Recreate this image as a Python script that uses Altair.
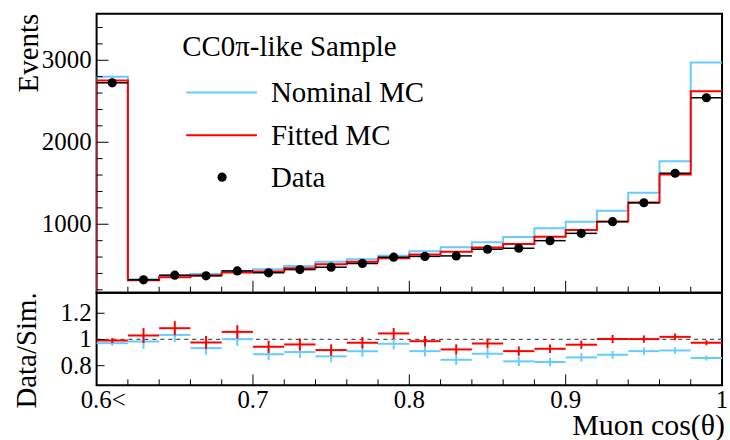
import altair as alt
import pandas as pd

# ---------------- data ----------------
bin_edges = [0.60, 0.62, 0.64, 0.66, 0.68, 0.70, 0.72, 0.74, 0.76, 0.78, 0.80,
             0.82, 0.84, 0.86, 0.88, 0.90, 0.92, 0.94, 0.96, 0.98, 1.00]
nominal_mc = [2800, 328, 372, 393, 431, 452, 492, 544, 573, 617, 670,
              719, 780, 844, 950, 1031, 1164, 1383, 1768, 2972]
fitted_mc = [2753, 318, 355, 378, 411, 423, 464, 513, 544, 586, 632,
             666, 715, 759, 848, 930, 1035, 1266, 1606, 2623]
data_counts = [2725, 322, 379, 371, 431, 407, 447, 476, 522, 598, 608,
               614, 695, 707, 800, 889, 1031, 1262, 1622, 2543]
data_err = [52, 18, 19, 19, 21, 20, 21, 22, 23, 24, 25,
            25, 26, 27, 28, 30, 32, 36, 40, 50]
ratio_fitted = [0.992, 1.030, 1.086, 0.977, 1.058, 0.944, 0.962, 0.919, 0.975, 1.046,
                0.987, 0.924, 0.970, 0.911, 0.929, 0.960, 1.003, 1.003, 1.020, 0.975]
ratio_nominal = [0.972, 0.985, 1.035, 0.934, 1.002, 0.888, 0.904, 0.871, 0.911, 0.967,
                 0.911, 0.845, 0.891, 0.833, 0.828, 0.863, 0.883, 0.911, 0.916, 0.858]
ratio_err = [0.019, 0.057, 0.054, 0.050, 0.051, 0.047, 0.046, 0.044, 0.043, 0.042,
             0.040, 0.039, 0.037, 0.036, 0.033, 0.032, 0.031, 0.028, 0.025, 0.019]

y_top_ticks = [1000, 2000, 3000]
y_top_minor = [200, 400, 600, 800, 1200, 1400, 1600, 1800, 2200, 2400, 2600, 2800, 3200, 3400]
y_bot_ticks = [0.8, 1.0, 1.2]
y_bot_labels = ["0.8", "1", "1.2"]
x_major = [0.7, 0.8, 0.9]
x_minor = [0.62, 0.64, 0.66, 0.68, 0.72, 0.74, 0.76, 0.78, 0.82, 0.84, 0.86, 0.88,
           0.92, 0.94, 0.96, 0.98]
x_label_vals = [0.7, 0.8, 0.9, 1.0]
x_label_text = ["0.7", "0.8", "0.9", "1"]

# ---------------- style ----------------
FONT = "Times New Roman, Liberation Serif, serif"
BLUE = "#66CCFF"
RED = "#FF0000"
W, H1, H2 = 628, 280, 93
Y_LO, Y_HI = 165, 3566
R_LO, R_HI = 0.65, 1.357
TICK_FS = 25
LEG_FS = 29

xs = alt.Scale(domain=[0.6, 1.0], nice=False, zero=False)
yt = alt.Scale(domain=[Y_LO, Y_HI], nice=False, zero=False)
yb = alt.Scale(domain=[R_LO, R_HI], nice=False, zero=False)

lo = bin_edges[:-1]
hi = bin_edges[1:]
ctr = [(a + b) / 2 for a, b in zip(lo, hi)]


def step_df(vals):
    xs_ = [bin_edges[0]] + lo + [bin_edges[-1]]
    ys_ = [Y_LO] + vals + [vals[-1]]
    return pd.DataFrame({"x": xs_, "y": ys_, "idx": list(range(len(xs_)))})


def X(f):
    return alt.X(f, scale=xs, axis=None)


def YT(f):
    return alt.Y(f, scale=yt, axis=None)


def YB(f):
    return alt.Y(f, scale=yb, axis=None)


one = pd.DataFrame({"a": [0]})

# ---------------- top panel ----------------
hist_layers = []
for vals, col in [(nominal_mc, BLUE), (fitted_mc, RED)]:
    hist_layers.append(
        alt.Chart(step_df(vals)).mark_line(interpolate="step-after", color=col,
                                           strokeWidth=2, clip=True)
        .encode(x=X("x:Q"), y=YT("y:Q"), order="idx:Q")
    )

ddf = pd.DataFrame({"lo": lo, "hi": hi, "c": ctr, "v": data_counts,
                    "vlo": [v - e for v, e in zip(data_counts, data_err)],
                    "vhi": [v + e for v, e in zip(data_counts, data_err)]})
d_h = alt.Chart(ddf).mark_rule(color="black", strokeWidth=1.5).encode(
    x=X("lo:Q"), x2="hi:Q", y=YT("v:Q"))
d_v = alt.Chart(ddf).mark_rule(color="black", strokeWidth=1.5).encode(
    x=X("c:Q"), y=YT("vlo:Q"), y2="vhi:Q")
d_pt = alt.Chart(ddf).mark_circle(color="black", size=85, opacity=1).encode(
    x=X("c:Q"), y=YT("v:Q"))

# ticks (inside the frame)
tk_top = [
    alt.Chart(pd.DataFrame({"v": y_top_ticks})).mark_rule(color="black", strokeWidth=1)
    .encode(y=YT("v:Q"), x=alt.value(0), x2=alt.value(12)),
    alt.Chart(pd.DataFrame({"v": y_top_minor})).mark_rule(color="black", strokeWidth=1)
    .encode(y=YT("v:Q"), x=alt.value(0), x2=alt.value(6)),
    alt.Chart(pd.DataFrame({"v": x_major})).mark_rule(color="black", strokeWidth=1)
    .encode(x=X("v:Q"), y=alt.value(H1), y2=alt.value(H1 - 12)),
    alt.Chart(pd.DataFrame({"v": x_minor})).mark_rule(color="black", strokeWidth=1)
    .encode(x=X("v:Q"), y=alt.value(H1), y2=alt.value(H1 - 6)),
]

ylab_top = alt.Chart(pd.DataFrame({"v": y_top_ticks, "t": [str(v) for v in y_top_ticks]})) \
    .mark_text(font=FONT, fontSize=TICK_FS, align="right", baseline="middle", color="black") \
    .encode(y=YT("v:Q"), x=alt.value(-5), text="t:N")

events_title = alt.Chart(one).mark_text(
    text="Events", font=FONT, fontSize=29, angle=270, align="right",
    baseline="alphabetic", color="black").encode(x=alt.value(-59), y=alt.value(0))

# legend
leg = []
leg.append(alt.Chart(one).mark_text(text="CC0π-like Sample", font=FONT, fontSize=LEG_FS,
                                    align="left", baseline="alphabetic", color="black")
           .encode(x=alt.value(86), y=alt.value(42)))
for label, col, ly in [("Nominal MC", BLUE, 79), ("Fitted MC", RED, 122)]:
    leg.append(alt.Chart(one).mark_rule(color=col, strokeWidth=2)
               .encode(x=alt.value(90), x2=alt.value(161), y=alt.value(ly)))
    leg.append(alt.Chart(one).mark_text(text=label, font=FONT, fontSize=LEG_FS, align="left",
                                        baseline="alphabetic", color="black")
               .encode(x=alt.value(175), y=alt.value(ly + 10)))
leg.append(alt.Chart(one).mark_circle(color="black", size=85, opacity=1)
           .encode(x=alt.value(126), y=alt.value(164)))
leg.append(alt.Chart(one).mark_text(text="Data", font=FONT, fontSize=LEG_FS, align="left",
                                    baseline="alphabetic", color="black")
           .encode(x=alt.value(175), y=alt.value(174)))

top = alt.layer(*hist_layers, d_h, d_v, d_pt, *tk_top, ylab_top, events_title, *leg) \
    .properties(width=W, height=H1)

# ---------------- bottom panel ----------------
dashed = alt.Chart(one).mark_rule(color="#555555", strokeWidth=1.3, strokeDash=[4, 4]).encode(
    x=alt.X("x:Q", scale=xs, axis=None), x2="x2:Q", y=YB("y:Q")
).transform_calculate(x="0.6", x2="1.0", y="1.0")

ratio_layers = []
for vals, col, sw in [(ratio_nominal, BLUE, 2), (ratio_fitted, RED, 2)]:
    rdf = pd.DataFrame({"lo": lo, "hi": hi, "c": ctr, "r": vals,
                        "rlo": [v - e for v, e in zip(vals, ratio_err)],
                        "rhi": [v + e for v, e in zip(vals, ratio_err)]})
    ratio_layers.append(alt.Chart(rdf).mark_rule(color=col, strokeWidth=sw).encode(
        x=X("lo:Q"), x2="hi:Q", y=YB("r:Q")))
    ratio_layers.append(alt.Chart(rdf).mark_rule(color=col, strokeWidth=sw).encode(
        x=X("c:Q"), y=YB("rlo:Q"), y2="rhi:Q"))

tk_bot = [
    alt.Chart(pd.DataFrame({"v": y_bot_ticks})).mark_rule(color="black", strokeWidth=1)
    .encode(y=YB("v:Q"), x=alt.value(0), x2=alt.value(8)),
    alt.Chart(pd.DataFrame({"v": x_major})).mark_rule(color="black", strokeWidth=1)
    .encode(x=X("v:Q"), y=alt.value(H2), y2=alt.value(H2 - 11)),
    alt.Chart(pd.DataFrame({"v": x_minor})).mark_rule(color="black", strokeWidth=1)
    .encode(x=X("v:Q"), y=alt.value(H2), y2=alt.value(H2 - 6)),
]

ylab_bot = alt.Chart(pd.DataFrame({"v": y_bot_ticks, "t": y_bot_labels})) \
    .mark_text(font=FONT, fontSize=TICK_FS, align="right", baseline="middle", color="black") \
    .encode(y=YB("v:Q"), x=alt.value(-5), text="t:N")

xlab = alt.Chart(pd.DataFrame({"v": x_label_vals, "t": x_label_text})) \
    .mark_text(font=FONT, fontSize=TICK_FS, align="center", baseline="alphabetic", color="black") \
    .encode(x=X("v:Q"), y=alt.value(116), text="t:N")
xlab0 = alt.Chart(pd.DataFrame({"v": [0.6], "t": ["0.6<"]})) \
    .mark_text(font=FONT, fontSize=TICK_FS, align="left", baseline="alphabetic", color="black", dx=-16) \
    .encode(x=X("v:Q"), y=alt.value(116), text="t:N")

xtitle = alt.Chart(one).mark_text(text="Muon cos(θ)", font=FONT, fontSize=30, align="right",
                                  baseline="alphabetic", color="black") \
    .encode(x=alt.value(W + 3), y=alt.value(143))
ytitle_bot = alt.Chart(one).mark_text(text="Data/Sim.", font=FONT, fontSize=29, angle=270,
                                      align="center", baseline="alphabetic", color="black") \
    .encode(x=alt.value(-61), y=alt.value(58))

bottom = alt.layer(dashed, *ratio_layers, *tk_bot, ylab_bot, xlab, xlab0, xtitle, ytitle_bot) \
    .properties(width=W, height=H2)

chart = alt.vconcat(top, bottom, spacing=0, bounds="flush").properties(
    padding={"left": 11, "top": 12, "right": 0, "bottom": 0},
    background="white",
).configure_view(stroke="black", strokeWidth=2)

chart.save("out.html", embed_options={"renderer": "svg", "actions": False})
